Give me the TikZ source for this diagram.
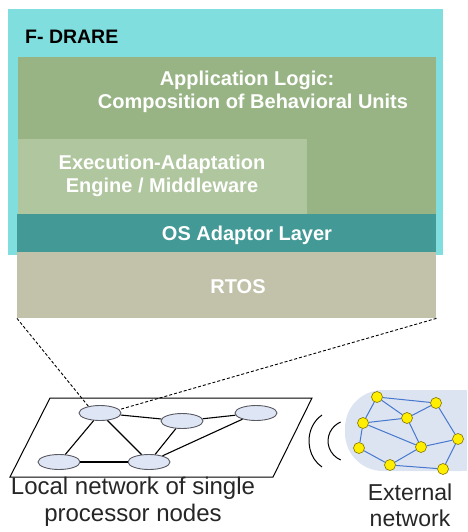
\documentclass[tikz,border=0pt]{standalone}
\usepackage{fontspec}
\setmainfont{Liberation Sans}
\usetikzlibrary{shapes.geometric}

\definecolor{fdrarebg}{RGB}{128,222,222}
\definecolor{appgreen}{RGB}{152,180,132}
\definecolor{engine}{RGB}{176,198,158}
\definecolor{osteal}{RGB}{66,153,150}
\definecolor{rtosbg}{RGB}{194,194,170}
\definecolor{procfill}{RGB}{222,230,245}
\definecolor{procline}{RGB}{90,90,100}
\definecolor{blobfill}{RGB}{220,228,242}
\definecolor{extedge}{RGB}{70,120,205}
\definecolor{extnode}{RGB}{255,238,0}
\definecolor{extline}{RGB}{130,115,0}

\tikzset{
  layer/.style={rectangle, draw=none, inner sep=0pt, anchor=north west},
  layertext/.style={text=white, font=\bfseries\fontsize{20}{23}\selectfont, inner sep=0pt},
  caption/.style={text=black!85, font=\fontsize{24}{27}\selectfont, align=center, inner sep=0pt},
  proc/.style={ellipse, draw=procline, fill=procfill, line width=0.9pt,
    minimum width=42pt, minimum height=15pt, inner sep=0pt},
  link/.style={line width=1.1pt, black},
  extn/.style={circle, draw=extline, fill=extnode, line width=0.6pt,
    minimum size=11pt, inner sep=0pt},
  extlink/.style={extedge, line width=1pt},
}

\begin{document}
\begin{tikzpicture}[x=1pt, y=-1pt]
\useasboundingbox (0,0) rectangle (467,532);
\begin{scope}
\clip (0,0) rectangle (467,532);

% software stack
\node[layer, fill=fdrarebg, minimum width=435pt, minimum height=246pt] (fdrare) at (8,9) {};
\node[layer, fill=appgreen, minimum width=418pt, minimum height=157pt] (app) at (18,57) {};
\node[layer, fill=engine, minimum width=289pt, minimum height=75pt] (eng) at (18,139) {};
\node[layer, fill=osteal, minimum width=419pt, minimum height=38pt] (osal) at (17,214) {};
\node[layer, fill=rtosbg, minimum width=419pt, minimum height=66pt] (rtos) at (17,252) {};

\node[anchor=west, font=\bfseries\fontsize{19.5}{22}\selectfont, inner sep=0pt] (title) at (25,37) {F- DRARE};
\node[layertext] (app1) at (247,80) {Application Logic:};
\node[layertext] (app2) at (253,103) {Composition of Behavioral Units};
\node[layertext] (eng1) at (162,164) {Execution-Adaptation};
\node[layertext] (eng2) at (162,187) {Engine / Middleware};
\node[layertext] (ostext) at (247,235) {OS Adaptor Layer};
\node[layertext] (rtostext) at (238,287) {RTOS};

% local network plane
\draw[line width=1pt] (10,477) -- (273,477) -- (312,398) -- (50,398) -- cycle;

\node[proc] (p1) at (100,413) {};
\node[proc] (p2) at (182,421) {};
\node[proc] (p3) at (256,413) {};
\node[proc] (p4) at (59,462) {};
\node[proc] (p5) at (149,462) {};

\draw[link] (p1) -- (p2);
\draw[link] (p2) -- (p3);
\draw[link] (p1) -- (p4);
\draw[link] (p1) -- (p5);
\draw[link] (p2) -- (p5);
\draw[link] (p3) -- (p5);
\draw[link] (p4) -- (p5);

% zoom lines from the stack to one processor node
\draw[line width=0.9pt, dash pattern=on 3pt off 2pt] (rtos.south west) -- (p1.150);
\draw[line width=0.9pt, dash pattern=on 3pt off 2pt] (rtos.south east) -- (p1.10);

\node[caption] (loccap) at (133,502) {Local network of single\\processor nodes};

% wireless link
\draw[line width=1pt] (335,441) ++(-13,26) arc[start angle=120, end angle=240, x radius=26, y radius=30];
\draw[line width=1pt] (350,441) ++(-9.3,19) arc[start angle=115, end angle=245, x radius=22, y radius=21];

% external network
\fill[blobfill, rounded corners=38pt] (345,390) rectangle (500,471);

\node[extn] (x1) at (377,397) {};
\node[extn] (x2) at (436,403) {};
\node[extn] (x3) at (407,418) {};
\node[extn] (x4) at (363,423) {};
\node[extn] (x5) at (458,439) {};
\node[extn] (x6) at (421,447) {};
\node[extn] (x7) at (359,448) {};
\node[extn] (x8) at (390,465) {};
\node[extn] (x9) at (443,469) {};

\draw[extlink] (x1) -- (x2);
\draw[extlink] (x1) -- (x4);
\draw[extlink] (x1) -- (x3);
\draw[extlink] (x2) -- (x3);
\draw[extlink] (x2) -- (x5);
\draw[extlink] (x4) -- (x3);
\draw[extlink] (x3) -- (x6);
\draw[extlink] (x4) -- (x6);
\draw[extlink] (x4) -- (x7);
\draw[extlink] (x6) -- (x5);
\draw[extlink] (x6) -- (x8);
\draw[extlink] (x7) -- (x8);
\draw[extlink] (x8) -- (x9);
\draw[extlink] (x9) -- (x5);

\node[caption, font=\fontsize{23}{26}\selectfont] (extcap) at (410,505) {External\\network};
\end{scope}
\end{tikzpicture}
\end{document}
